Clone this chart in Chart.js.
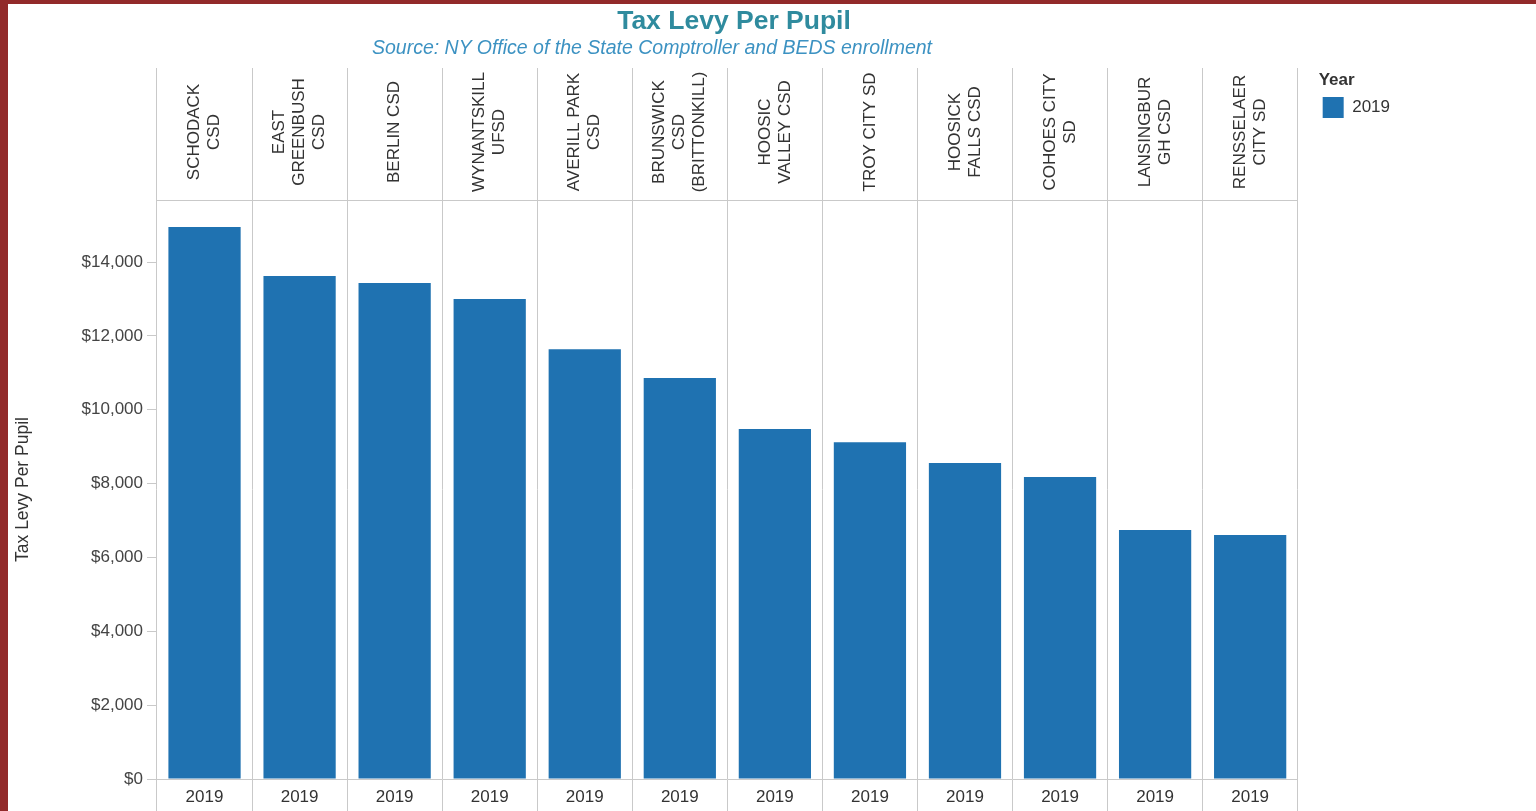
<!DOCTYPE html>
<html>
<head>
<meta charset="utf-8">
<script src="https://cdn.jsdelivr.net/npm/chart.js@4/dist/chart.umd.min.js"></script>
<style>
  html, body { margin: 0; padding: 0; background: #fff; }
  #wrap { position: absolute; left: 0; top: 0; width: 1536px; height: 811px; overflow: hidden; background: #fff; }
  #chart { position: absolute; left: 0; top: 0; width: 1536px; height: 811px; }
  .bl { position: absolute; left: 0; top: 0; width: 8px; height: 811px; background: #922a2a; }
  .bt { position: absolute; left: 0; top: 0; width: 1536px; height: 4px; background: #922a2a; }
  .title { position: absolute; top: 5px; left: 0; width: 1468px; text-align: center; line-height: 30px; font-family: "Liberation Sans", Arial, sans-serif; font-weight: bold; font-size: 26.5px; color: #2f8b9e; }
  .sub { position: absolute; top: 36px; left: 0; width: 1304px; text-align: center; line-height: 22px; font-family: "Liberation Sans", Arial, sans-serif; font-style: italic; font-size: 19.5px; color: #3c92c2; }
</style>
</head>
<body>
<div id="wrap">
  <canvas id="chart" width="1536" height="811"></canvas>
  <div class="title">Tax Levy Per Pupil</div>
  <div class="sub">Source: NY Office of the State Comptroller and BEDS enrollment</div>
  <div class="bl"></div>
  <div class="bt"></div>
</div>
<script>
const districts = [
  "SCHODACK CSD", "EAST GREENBUSH CSD", "BERLIN CSD", "WYNANTSKILL UFSD",
  "AVERILL PARK CSD", "BRUNSWICK CSD (BRITTONKILL)", "HOOSIC VALLEY CSD", "TROY CITY SD",
  "HOOSICK FALLS CSD", "COHOES CITY SD", "LANSINGBURGH CSD", "RENSSELAER CITY SD"
];
const headerLabels = [
  ["SCHODACK", "CSD"], ["EAST", "GREENBUSH", "CSD"], ["BERLIN CSD"], ["WYNANTSKILL", "UFSD"],
  ["AVERILL PARK", "CSD"], ["BRUNSWICK", "CSD", "(BRITTONKILL)"], ["HOOSIC", "VALLEY CSD"], ["TROY CITY SD"],
  ["HOOSICK", "FALLS CSD"], ["COHOES CITY", "SD"], ["LANSINGBUR", "GH CSD"], ["RENSSELAER", "CITY SD"]
];
const yearLabel = "2019";
const taxLevy2019 = [14950, 13620, 13430, 13000, 11640, 10860, 9480, 9120, 8560, 8180, 6740, 6610];
const yTicks = [0, 2000, 4000, 6000, 8000, 10000, 12000, 14000];

const FONT = "'Liberation Sans', Arial, sans-serif";
const GRID = "#c9c9c9";

const headerPlugin = {
  id: "headerText",
  afterDraw(chart) {
    const sc = chart.scales.x2;
    const ctx = chart.ctx;
    ctx.save();
    ctx.fillStyle = "#333";
    ctx.font = "17px " + FONT;
    ctx.textAlign = "center";
    ctx.textBaseline = "middle";
    const lh = 20;
    const cy = (sc.top + sc.bottom) / 2 - 2;
    headerLabels.forEach((lines, i) => {
      const px = sc.getPixelForValue(i);
      const n = lines.length;
      lines.forEach((ln, j) => {
        const off = (j - (n - 1) / 2) * lh;
        ctx.save();
        ctx.translate(px + off, cy);
        ctx.rotate(-Math.PI / 2);
        ctx.fillText(ln, 0, 0);
        ctx.restore();
      });
    });
    ctx.restore();
  }
};

new Chart(document.getElementById("chart"), {
  type: "bar",
  data: {
    labels: districts,
    datasets: [{
      label: yearLabel,
      data: taxLevy2019,
      backgroundColor: "#1f72b1",
      borderWidth: 0,
      barPercentage: 0.76,
      categoryPercentage: 1.0
    }]
  },
  options: {
    responsive: false,
    animation: false,
    layout: { padding: { left: 8, top: 68, right: 136, bottom: 0 } },
    plugins: {
      title: { display: false },
      tooltip: { enabled: false },
      legend: {
        display: true,
        position: "right",
        align: "start",
        title: { display: true, text: "Year", position: "start", color: "#333",
                 font: { family: FONT, size: 17, weight: "bold" }, padding: { top: 3.5, bottom: 1 } },
        labels: { boxWidth: 21, boxHeight: 21, padding: 4, color: "#333",
                  font: { family: FONT, size: 17 } }
      }
    },
    scales: {
      x: {
        type: "category",
        position: "bottom",
        offset: true,
        grid: { offset: true, color: GRID, lineWidth: 1, drawOnChartArea: true, drawTicks: true, tickLength: 32, tickColor: GRID },
        border: { display: true, color: GRID },
        ticks: { color: "#333", font: { family: FONT, size: 17 }, padding: -23.5, maxRotation: 0, autoSkip: false,
                 callback: () => yearLabel },
        afterFit(s) { s.height = 32; }
      },
      x2: {
        type: "category",
        position: "top",
        labels: districts,
        offset: true,
        grid: { offset: true, color: GRID, lineWidth: 1, drawOnChartArea: false, drawTicks: true, tickLength: 132, tickColor: GRID },
        border: { display: true, color: GRID },
        ticks: { display: false },
        afterFit(s) { s.height = 132; }
      },
      y: {
        type: "linear",
        min: 0,
        max: 15680,
        afterBuildTicks(s) { s.ticks = yTicks.map(v => ({ value: v })); },
        grid: { drawOnChartArea: false, drawTicks: true, tickLength: 10, tickColor: GRID, color: GRID },
        border: { display: false },
        ticks: { color: "#444", font: { family: FONT, size: 17 }, padding: 4,
                 callback: v => "$" + v.toLocaleString("en-US") },
        title: { display: true, text: "Tax Levy Per Pupil", color: "#333", font: { family: FONT, size: 17.5 }, padding: { top: 5, bottom: 0 } },
        afterFit(s) { s.width = 149; }
      },
      gap: {
        type: "linear",
        position: "right",
        display: true,
        grid: { display: false, drawTicks: false },
        border: { display: false },
        ticks: { display: false },
        afterFit(s) { s.width = 21; }
      }
    }
  },
  plugins: [headerPlugin]
});
</script>
</body>
</html>
